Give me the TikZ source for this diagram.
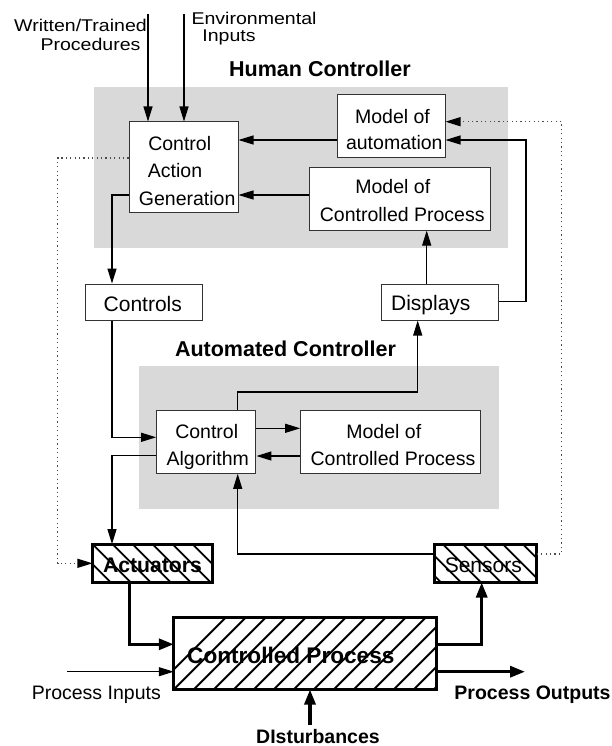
\documentclass[tikz,border=0pt]{standalone}
\usepackage{fontspec}
\setmainfont{Liberation Sans}
\newfontfamily\lblfont[FakeStretch=1.15]{Liberation Sans}
\usetikzlibrary{arrows.meta,calc}
\begin{document}
\begin{tikzpicture}[x=1pt,y=-1pt,
  panel/.style={fill=gray!30, inner sep=0pt, draw=none},
  box/.style={draw=black!80, line width=1pt, fill=white, inner sep=0pt},
  hbox/.style={fill=white, inner sep=0pt},
  hborder/.style={line width=3pt, line join=miter},
  hatch/.style={line width=1.8pt},
  txt/.style={anchor=base, inner sep=0pt, font=\fontsize{19.5}{23}\selectfont},
  lbl/.style={anchor=base, inner sep=0pt, font=\lblfont\fontsize{17}{20}\selectfont},
  btxt/.style={anchor=base, inner sep=0pt, font=\fontsize{19.5}{23}\selectfont\bfseries},
  arr/.style={line width=1.1pt, -{Triangle[length=15pt,width=9pt]}},
  thickarr/.style={line width=3.2pt, -{Triangle[length=15pt,width=11pt]}},
  dotl/.style={line width=1.2pt, black!70, dash pattern=on 1.2pt off 3.2pt, -{Triangle[length=15pt,width=9pt,color=black]}}
]
\useasboundingbox (0,0) rectangle (611,746);

% panels
\node[panel, minimum width=414pt, minimum height=161pt] (hpanel) at (301,167.5) {};
\node[panel, minimum width=360pt, minimum height=143.3pt] (apanel) at (319,437.65) {};

% boxes
\node[box, minimum width=109pt, minimum height=90pt] (cag) at (183.5,167) {};
\node[box, minimum width=108pt, minimum height=63pt] (moa) at (391,126.5) {};
\node[box, minimum width=180.7pt, minimum height=62.7pt] (mcph) at (399.7,198.7) {};
\node[box, minimum width=117.3pt, minimum height=36.3pt] (controls) at (143.7,302.2) {};
\node[box, minimum width=117.3pt, minimum height=36pt] (displays) at (440.3,302) {};
\node[box, minimum width=99.3pt, minimum height=63pt] (ca) at (206.3,441.8) {};
\node[box, minimum width=180.3pt, minimum height=63pt] (mcpa) at (390.8,441.8) {};
\node[hbox, minimum width=119.3pt, minimum height=38pt] (act) at (152.3,563.3) {};
\node[hbox, minimum width=101.7pt, minimum height=38pt] (sen) at (485.8,563.3) {};
\node[hbox, minimum width=262.7pt, minimum height=72pt] (cp) at (305.3,653.3) {};

% hatching
\begin{scope}
\clip (act.north west) rectangle (act.south east);
\foreach \i in {-3,...,7} \draw[hatch] ($(act.north west)+(\i*20,0)$) -- ++(45,45);
\end{scope}
\begin{scope}
\clip (sen.north west) rectangle (sen.south east);
\foreach \i in {-3,...,6} \draw[hatch] ($(sen.north west)+(\i*20+8,0)$) -- ++(45,45);
\end{scope}
\begin{scope}
\clip (cp.north west) rectangle (cp.south east);
\foreach \i in {-1,...,17} \draw[hatch] ($(cp.south west)+(\i*20,0)$) -- ++(80,-80);
\end{scope}
\draw[hborder] (act.north west) rectangle (act.south east);
\draw[hborder] (sen.north west) rectangle (sen.south east);
\draw[hborder] (cp.north west) rectangle (cp.south east);

% named coordinates
\coordinate (wtin) at (148,14);
\coordinate (envin) at (184,14);
\coordinate (xl) at (112,0);
\coordinate (xm) at (237.7,0);
\coordinate (xd) at (417.7,0);
\coordinate (xr) at (526,0);
\coordinate (xdot) at (561.7,0);
\coordinate (xo) at (426.7,0);
\coordinate (xa) at (129.3,0);
\coordinate (xs) at (481.7,0);
\coordinate (pin) at (67.3,671.7);
\coordinate (pout) at (525,671.7);
\coordinate (dist) at (310,725);

% connectors
\draw[arr] (wtin) -- (wtin |- cag.north);
\draw[arr] (envin) -- (envin |- cag.north);
\draw[arr] (moa.west |- 0,140) -- (cag.east |- 0,140);
\draw[arr] (mcph.west |- 0,195) -- (cag.east |- 0,195);
\draw[dotl] (cag.west |- 0,158) -- ++(-71,0) |- (act.west |- 0,563.3);
\draw[arr] (cag.west |- 0,195) -| (xl |- controls.north);
\draw[arr] (xl |- controls.south) |- (ca.west |- 0,437.3);
\draw[arr] (ca.west |- 0,455.7) -| (xl |- act.north);
\draw[arr] (xm |- ca.north) |- (xd |- 0,392) -- (xd |- displays.south);
\draw[arr] (ca.east |- 0,428.3) -- (mcpa.west |- 0,428.3);
\draw[arr] (mcpa.west |- 0,456) -- (ca.east |- 0,456);
\draw[arr] (sen.west |- 0,554) -| (xm |- ca.south);
\draw[dotl] (sen.east |- 0,554) -| (xdot |- 0,121.7) -- (moa.east |- 0,121.7);
\draw[arr] (displays.east |- 0,301.7) -| (xr |- 0,140) -- (moa.east |- 0,140);
\draw[arr] (xo |- displays.north) -- (xo |- mcph.south);
\draw[thickarr] (xa |- act.south) |- (cp.west |- 0,644.3);
\draw[arr] (pin) -- (cp.west |- pin);
\draw[thickarr] (cp.east |- 0,644.3) -| (xs |- sen.south);
\draw[thickarr] (cp.east |- 0,671.7) -- (pout);
\draw[thickarr] (dist) -- (dist |- cp.south);

% texts
\node[lbl] (t1) at (80.5,31.7) {Written/Trained};
\node[lbl] (t2) at (90.5,50.7) {Procedures};
\node[lbl] (t3) at (254,25) {Environmental};
\node[lbl] (t4) at (229,41.7) {Inputs};
\node[btxt, font=\fontsize{21.5}{25}\selectfont\bfseries] (t5) at (320,76.7) {Human Controller};
\node[txt] (t6) at (179.7,150.7) {Control};
\node[txt] (t7) at (175,177.3) {Action};
\node[txt] (t8) at (187.2,205) {Generation};
\node[txt] (t9) at (392.5,123.3) {Model of};
\node[txt] (t10) at (394.3,150) {automation};
\node[txt] (t11) at (392.8,193.3) {Model of};
\node[txt] (t12) at (402.2,221) {Controlled Process};
\node[txt, font=\fontsize{21}{25}\selectfont] (t13) at (430.8,310.7) {Displays};
\node[txt, font=\fontsize{21}{25}\selectfont] (t14) at (142.8,311.7) {Controls};
\node[btxt, font=\fontsize{21.5}{25}\selectfont\bfseries] (t15) at (285.5,356.7) {Automated Controller};
\node[txt] (t16) at (206.7,438.3) {Control};
\node[txt] (t17) at (207.8,465) {Algorithm};
\node[txt] (t18) at (383.8,438.3) {Model of};
\node[txt] (t19) at (393,465) {Controlled Process};
\node[btxt, font=\fontsize{21.2}{25}\selectfont\bfseries] (t20) at (152.5,572.3) {Actuators};
\node[txt, font=\fontsize{21}{25}\selectfont] (t21) at (483.3,572.3) {Sensors};
\node[btxt, font=\fontsize{22.6}{26}\selectfont\bfseries] (t22) at (290.8,663.3) {Controlled Process};
\node[txt] (t23) at (96.3,699) {Process Inputs};
\node[btxt] (t24) at (532.5,699) {Process Outputs};
\node[btxt] (t25) at (318,743.3) {DIsturbances};
\end{tikzpicture}
\end{document}
